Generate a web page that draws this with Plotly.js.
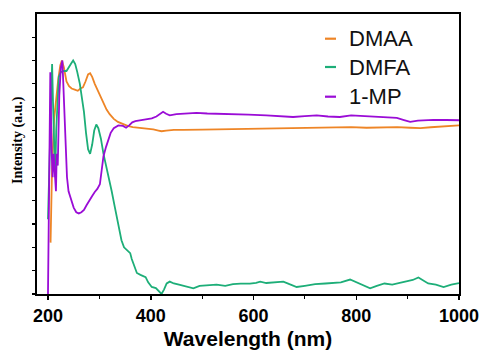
<!DOCTYPE html>
<html>
<head>
<meta charset="utf-8">
<script src="https://cdn.plot.ly/plotly-3.0.1.min.js"></script>
<style>html,body{margin:0;padding:0;background:#fff;}#chart{width:485px;height:353px;}</style>
</head>
<body>
<div id="chart"></div>
<script>
// Series names and colours
const seriesNames = ["DMAA", "DMFA", "1-MP"];
const seriesColors = ["#EE8526", "#1DAE78", "#9A0CD6"];

// DMAA (orange)
const dmaaX = [205,208,212,216,220,224,227,231,236,241,246,252,258,263,268,273,278,282,286,291,296,302,308,314,320,328,336,345,355,365,378,392,405,415,421,430,445,463,480,500,530,560,593,620,650,680,700,730,760,790,820,850,880,905,925,945,965,985,1000];
const dmaaY = [0.22,0.55,0.75,0.85,0.92,0.98,1.0,0.97,0.91,0.89,0.88,0.875,0.87,0.88,0.885,0.91,0.94,0.945,0.93,0.9,0.875,0.845,0.815,0.79,0.77,0.75,0.737,0.728,0.72,0.715,0.712,0.708,0.705,0.7,0.697,0.7,0.703,0.703,0.702,0.704,0.705,0.706,0.708,0.709,0.709,0.71,0.712,0.713,0.713,0.715,0.712,0.713,0.715,0.712,0.71,0.714,0.716,0.72,0.722];

// DMFA (green)
const dmfaX = [200,203,206,208,210,212,214,216,218,221,225,230,236,241,246,249,253,257,262,266,270,274,278,282,286,290,294,298,303,308,313,318,324,330,336,343,348,353,357,360,363,368,373,380,386,390,395,402,410,416,421,426,431,437,445,455,465,475,483,495,510,528,545,560,575,593,605,613,625,640,658,670,684,700,720,740,755,770,788,800,815,827,840,855,870,879,890,898,910,921,930,940,955,970,985,1000];
const dmfaY = [0.32,0.6,0.9,0.985,0.8,0.62,0.5,0.7,0.83,0.93,0.95,0.955,0.955,0.97,0.99,1.0,0.985,0.95,0.9,0.84,0.78,0.69,0.62,0.6,0.64,0.7,0.726,0.71,0.665,0.6,0.55,0.51,0.44,0.373,0.3,0.23,0.2,0.19,0.18,0.175,0.15,0.115,0.09,0.082,0.075,0.072,0.05,0.03,0.025,0.01,0.0,0.02,0.045,0.053,0.045,0.04,0.035,0.028,0.024,0.035,0.038,0.04,0.035,0.042,0.044,0.044,0.048,0.053,0.047,0.05,0.053,0.042,0.03,0.035,0.042,0.045,0.047,0.05,0.062,0.05,0.035,0.024,0.035,0.045,0.04,0.045,0.05,0.053,0.06,0.071,0.058,0.045,0.04,0.03,0.04,0.047];

// 1-MP (purple)
const mpX = [200,201.5,203,204.5,207,209,211,213,215.5,217,219,222,225,228,231,234,237,240,245,250,255,260,265,270,275,280,286,291,296,301,305,308,313,317,322,328,337,346,352,358,364,370,380,392,402,411,418,424,430,437,450,465,489,510,535,561,590,625,650,677,700,723,745,768,790,820,850,879,893,905,920,935,950,975,1000];
const mpY = [0.0,0.35,0.75,0.95,0.62,0.5,0.6,0.5,0.44,0.6,0.55,0.85,0.97,1.0,0.85,0.65,0.5,0.44,0.4,0.37,0.35,0.345,0.35,0.36,0.38,0.4,0.42,0.437,0.45,0.47,0.53,0.59,0.63,0.658,0.69,0.71,0.722,0.72,0.712,0.722,0.735,0.74,0.743,0.746,0.752,0.76,0.772,0.78,0.772,0.765,0.77,0.773,0.776,0.773,0.772,0.77,0.768,0.765,0.762,0.758,0.762,0.765,0.76,0.758,0.765,0.761,0.758,0.754,0.745,0.737,0.742,0.745,0.746,0.745,0.744];

// Axis ticks
const xTickVals = [200, 400, 600, 800, 1000];
const xTickText = ["200", "400", "600", "800", "1000"];

const xs = [dmaaX, dmfaX, mpX];
const ys = [dmaaY, dmfaY, mpY];

const traces = seriesNames.map((n, i) => ({
  type: "scatter", mode: "lines", name: n,
  x: xs[i], y: ys[i],
  line: {color: seriesColors[i], width: 1.8},
  showlegend: false, hoverinfo: "skip"
}));

const boldFont = {family: "Liberation Sans, Arial, sans-serif", weight: "bold", color: "#000"};

// custom legend (short line samples)
const legendY = [38.7, 67, 96.7];
const shapes = seriesNames.map((n, i) => ({
  type: "line", xref: "paper", yref: "paper",
  x0: (325 - 37) / 422, x1: (336 - 37) / 422,
  y0: (294 - legendY[i]) / 280, y1: (294 - legendY[i]) / 280,
  line: {color: seriesColors[i], width: 2.2}
}));
const annotations = seriesNames.map((n, i) => ({
  text: n, xref: "paper", yref: "paper",
  x: (347 - 37) / 422, y: (294 - legendY[i]) / 280,
  xanchor: "left", yanchor: "middle", showarrow: false,
  font: {family: "Liberation Sans, Arial, sans-serif", size: 22, color: "#111"}
}));
annotations.push({
  text: "Intensity (a.u.)", xref: "paper", yref: "paper",
  x: (18 - 37) / 422, y: (294 - 140) / 280, textangle: -90,
  xanchor: "center", yanchor: "middle", showarrow: false,
  font: {family: "Liberation Serif, Times New Roman, serif", size: 14, weight: "bold", color: "#000"}
});

const layout = {
  width: 485, height: 353,
  margin: {l: 37, r: 26, t: 14, b: 59},
  paper_bgcolor: "#fff", plot_bgcolor: "#fff",
  showlegend: false,
  xaxis: {
    range: [178.6, 1000], tickvals: xTickVals, ticktext: xTickText,
    ticks: "outside", ticklen: 4, tickwidth: 1.5, tickcolor: "#000",
    minor: {dtick: 100, tick0: 200, ticks: "outside", ticklen: 3, tickwidth: 1.2, tickcolor: "#000"},
    showline: true, linecolor: "#000", linewidth: 2, mirror: true,
    showgrid: false, zeroline: false,
    tickfont: Object.assign({size: 18}, boldFont),
    title: {text: "Wavelength (nm)", font: Object.assign({size: 21}, boldFont), standoff: 7}
  },
  yaxis: {
    range: [0, 1.199], dtick: 0.1, tick0: 0,
    ticks: "outside", ticklen: 3, tickwidth: 1.2, tickcolor: "#000",
    showticklabels: false,
    showline: true, linecolor: "#000", linewidth: 2, mirror: true,
    showgrid: false, zeroline: false
  },
  shapes: shapes,
  annotations: annotations
};

Plotly.newPlot("chart", traces, layout, {displayModeBar: false, staticPlot: true});
</script>
</body>
</html>
